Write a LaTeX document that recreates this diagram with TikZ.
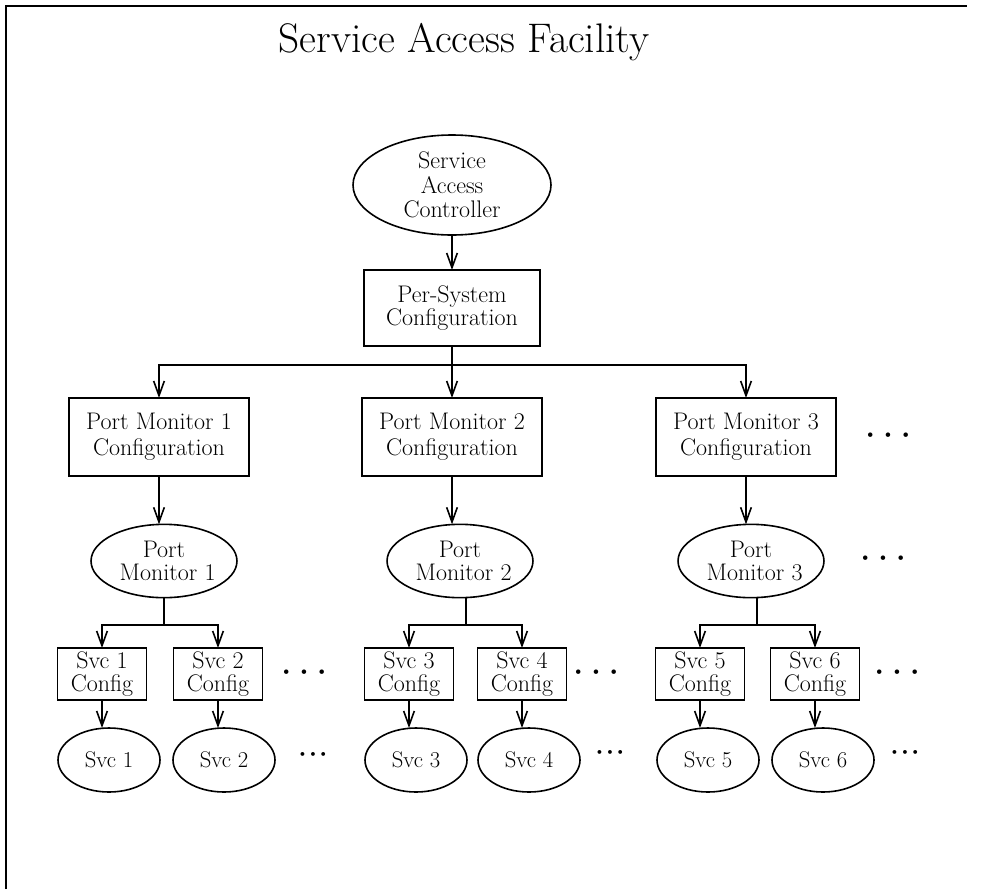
\documentclass[tikz,border=0pt]{standalone}
\usetikzlibrary{shapes.geometric,arrows.meta}
\begin{document}
\begin{tikzpicture}[x=0.75pt,y=-0.75pt,
  every node/.style={inner sep=0pt, outer sep=0pt},
  lbl/.style={font=\fontsize{18}{18}\selectfont, align=center},
  box/.style={draw, line width=1.2pt, rectangle, lbl},
  ell/.style={draw, line width=1.2pt, ellipse, lbl},
  pmcbox/.style={box, font=\fontsize{18}{19.5}\selectfont, minimum width=135pt, minimum height=58.5pt},
  pmell/.style={ell, font=\fontsize{18}{17.5}\selectfont, minimum width=107pt, minimum height=55pt},
  scbox/.style={box, font=\fontsize{18}{17}\selectfont, minimum width=67pt, minimum height=39pt},
  svell/.style={ell, font=\fontsize{17}{17}\selectfont, minimum width=76.5pt, minimum height=48pt},
  bigdots/.style={font=\fontsize{15}{15}\selectfont},
  smalldots/.style={font=\fontsize{10}{10}\selectfont},
  arr/.style={-{Straight Barb[length=11pt,width=8pt]}, line width=1.2pt},
  conn/.style={line width=1.2pt}
]
\useasboundingbox (0,0) rectangle (992,889);
\draw[line width=2pt] (6,889) -- (6,6) -- (967,6);

\node[lbl, font=\fontsize{31}{34}\selectfont, anchor=base] (title) at (464,52) {Service Access Facility};

\node[ell, minimum width=148.5pt, minimum height=75pt, font=\fontsize{18}{18.5}\selectfont] (sac) at (452,185) {Service\\Access\\Controller};
\node[box, font=\fontsize{18}{17.5}\selectfont, minimum width=132pt, minimum height=57pt] (ps) at (452,308) {Per-System\\Configuration};

\node[pmcbox] (pmc1) at (159,437) {Port Monitor 1\\Configuration};
\node[pmcbox] (pmc2) at (452,437) {Port Monitor 2\\Configuration};
\node[pmcbox] (pmc3) at (746,437) {Port Monitor 3\\Configuration};
\node[bigdots] (d1) at (888,437) {\textbullet\,\textbullet\,\textbullet};

\node[pmell] (pm1) at (164,561) {Port\\\ Monitor 1};
\node[pmell] (pm2) at (460,561) {Port\\\ Monitor 2};
\node[pmell] (pm3) at (751,561) {Port\\\ Monitor 3};
\node[bigdots] (d2) at (883,560) {\textbullet\,\textbullet\,\textbullet};

\node[scbox] (sc1) at (102,674) {Svc 1\\Config};
\node[scbox] (sc2) at (218,674) {Svc 2\\Config};
\node[scbox] (sc3) at (409,674) {Svc 3\\Config};
\node[scbox] (sc4) at (522,674) {Svc 4\\Config};
\node[scbox] (sc5) at (700,674) {Svc 5\\Config};
\node[scbox] (sc6) at (815,674) {Svc 6\\Config};
\node[bigdots] (d3) at (304,674) {\textbullet\,\textbullet\,\textbullet};
\node[bigdots] (d4) at (596,674) {\textbullet\,\textbullet\,\textbullet};
\node[bigdots] (d5) at (897,674) {\textbullet\,\textbullet\,\textbullet};

\node[svell] (sv1) at (109,760) {Svc 1};
\node[svell] (sv2) at (224,760) {Svc 2};
\node[svell] (sv3) at (416,760) {Svc 3};
\node[svell] (sv4) at (529,760) {Svc 4};
\node[svell] (sv5) at (708,760) {Svc 5};
\node[svell] (sv6) at (823,760) {Svc 6};
\node[smalldots] (d6) at (313,755) {\textbullet\textbullet\textbullet};
\node[smalldots] (d7) at (610,753) {\textbullet\textbullet\textbullet};
\node[smalldots] (d8) at (905,753) {\textbullet\textbullet\textbullet};

\coordinate (h0) at (452,365);
\coordinate (h1) at (164,625);
\coordinate (h2) at (466,625);
\coordinate (h3) at (757,625);

\draw[arr] (sac.south) -- (ps.north);
\draw[conn] (ps.south) -- (h0);
\draw[arr] (h0) -| (pmc1.north);
\draw[arr] (h0) -- (pmc2.north);
\draw[arr] (h0) -| (pmc3.north);

\draw[arr] (pmc1.south) -- (pmc1.south |- pm1.north);
\draw[arr] (pmc2.south) -- (pmc2.south |- pm2.north);
\draw[arr] (pmc3.south) -- (pmc3.south |- pm3.north);

\draw[conn] (h1 |- pm1.south) -- (h1);
\draw[conn] (h2 |- pm2.south) -- (h2);
\draw[conn] (h3 |- pm3.south) -- (h3);
\draw[arr] (h1) -| (sc1.north);
\draw[arr] (h1) -| (sc2.north);
\draw[arr] (h2) -| (sc3.north);
\draw[arr] (h2) -| (sc4.north);
\draw[arr] (h3) -| (sc5.north);
\draw[arr] (h3) -| (sc6.north);

\draw[arr] (sc1.south) -- (sc1.south |- sv1.north);
\draw[arr] (sc2.south) -- (sc2.south |- sv2.north);
\draw[arr] (sc3.south) -- (sc3.south |- sv3.north);
\draw[arr] (sc4.south) -- (sc4.south |- sv4.north);
\draw[arr] (sc5.south) -- (sc5.south |- sv5.north);
\draw[arr] (sc6.south) -- (sc6.south |- sv6.north);
\end{tikzpicture}
\end{document}
